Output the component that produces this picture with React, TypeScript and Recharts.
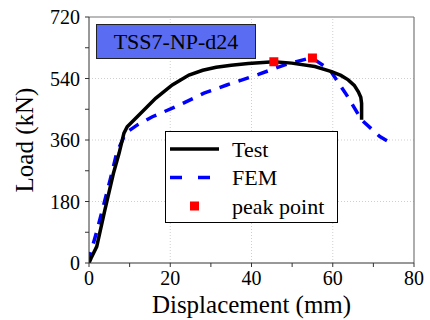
import {
  ComposedChart,
  Line,
  Scatter,
  XAxis,
  YAxis,
  ReferenceLine,
  Label,
} from "recharts";

const FONT =
  "Liberation Serif, Tinos, Times New Roman, Nimbus Roman, FreeSerif, Noto Serif, DejaVu Serif, serif";

// Test curve (displacement mm, load kN)
const TEST_X = [0, 0.5, 1.9, 3.9, 6.0, 7.4, 8.6, 9.4, 12.3, 16.4, 20.5, 24.6, 28, 31.3, 35, 39.2, 45.5, 49.9, 55.6, 59.7, 62, 63.8, 65.3, 66.3, 66.9, 67.1, 67.1];
const TEST_Y = [0, 14, 48, 155, 262, 321, 380, 399, 433, 482, 521, 550, 564, 573, 579, 584, 589, 585, 575, 560, 549, 536, 520, 501, 485, 467, 419];

// FEM curve
const FEM_X = [0, 0.25, 1.9, 3.5, 5.2, 6.8, 9.0, 12, 15.6, 22.2, 28.3, 31.6, 33.9, 41.7, 48.2, 54.8, 59.3, 63.4, 67.1, 71.6, 73.5];
const FEM_Y = [0, 23, 92, 165, 243, 321, 380, 405, 428, 462, 497, 511, 521, 552, 580, 601, 565, 492, 419, 370, 357];

// peak points
const PEAK_X = [45.5, 55.0];
const PEAK_Y = [589, 600];

const X_TICKS = [0, 10, 20, 30, 40, 50, 60, 70, 80];
const Y_TICKS = [0, 90, 180, 270, 360, 450, 540, 630, 720];
const X_GRID = [20, 40, 60];
const Y_GRID = [180, 360, 540];

const toPoints = (xs: number[], ys: number[]) => xs.map((x, i) => ({ x, y: ys[i] }));

const testData = toPoints(TEST_X, TEST_Y);
const femData = toPoints(FEM_X, FEM_Y);
const peakData = toPoints(PEAK_X, PEAK_Y);

function XTick(props: any) {
  const { x, y, payload } = props;
  if (payload.value % 20 !== 0) return null;
  return (
    <text x={x} y={y} dy="0.74em" textAnchor="middle" fontFamily={FONT} fontSize={20} fill="#000">
      {payload.value}
    </text>
  );
}

function YTick(props: any) {
  const { x, y, payload } = props;
  if (payload.value % 180 !== 0) return null;
  return (
    <text x={x} y={y} dy="0.36em" textAnchor="end" fontFamily={FONT} fontSize={20} fill="#000">
      {payload.value}
    </text>
  );
}

function Square(props: any) {
  const { cx, cy } = props;
  return <rect x={cx - 4.5} y={cy - 4.5} width={9} height={9} fill="#ff0000" />;
}

const LEGEND_ROWS = [
  { name: "Test", kind: "solid" },
  { name: "FEM", kind: "dash" },
  { name: "peak point", kind: "square" },
];

function LegendBox() {
  return (
    <div
      style={{
        position: "absolute",
        left: 165,
        top: 131,
        width: 171,
        height: 90,
        border: "1px solid #000",
        background: "#fff",
      }}
    >
      <svg width={171} height={90} style={{ display: "block" }}>
        {LEGEND_ROWS.map((r, i) => {
          const cy = 17 + i * 28.5;
          return (
            <g key={r.name}>
              {r.kind === "solid" && <line x1={4} x2={53} y1={cy} y2={cy} stroke="#000" strokeWidth={3.5} />}
              {r.kind === "dash" && (
                <line x1={4} x2={53} y1={cy} y2={cy} stroke="#0000ff" strokeWidth={3.5} strokeDasharray="12 16" />
              )}
              {r.kind === "square" && <rect x={24} y={cy - 4.5} width={9} height={9} fill="#ff0000" />}
              <text x={66} y={cy} dy="0.36em" fontFamily={FONT} fontSize={22} fill="#000">
                {r.name}
              </text>
            </g>
          );
        })}
      </svg>
    </div>
  );
}

export default function App() {
  return (
    <div style={{ position: "absolute", left: 0, top: 0, width: 430, height: 320, background: "#fff", fontFamily: FONT }}>
      <ComposedChart width={430} height={320} margin={{ top: 17, right: 16, bottom: 0, left: 0 }}>
        {X_GRID.map((v) => (
          <ReferenceLine key={"gx" + v} x={v} stroke="#cfcfcf" strokeDasharray="1 2" />
        ))}
        {Y_GRID.map((v) => (
          <ReferenceLine key={"gy" + v} y={v} stroke="#cfcfcf" strokeDasharray="1 2" />
        ))}
        <ReferenceLine x={80} stroke="#777" strokeWidth={1.2} />
        <ReferenceLine y={720} stroke="#777" strokeWidth={1.2} />
        <XAxis
          type="number"
          dataKey="x"
          domain={[0, 80]}
          ticks={X_TICKS}
          interval={0}
          height={57}
          tickSize={4}
          tickMargin={3}
          tick={<XTick />}
          stroke="#333"
          allowDataOverflow
        >
          <Label
            content={({ viewBox }: any) => (
              <text
                x={viewBox.x + viewBox.width / 2}
                y={viewBox.y + viewBox.height - 7}
                textAnchor="middle"
                fontFamily={FONT}
                fontSize={25}
                fill="#000"
              >
                Displacement (mm)
              </text>
            )}
          />
        </XAxis>
        <YAxis
          type="number"
          dataKey="y"
          domain={[0, 720]}
          ticks={Y_TICKS}
          interval={0}
          width={89}
          tickSize={4}
          tickMargin={5}
          tick={<YTick />}
          stroke="#333"
          allowDataOverflow
        >
          <Label
            content={({ viewBox }: any) => {
              const lx = viewBox.x + 33;
              const ly = viewBox.y + viewBox.height / 2;
              return (
                <text
                  x={lx}
                  y={ly}
                  transform={`rotate(-90 ${lx} ${ly})`}
                  textAnchor="middle"
                  fontFamily={FONT}
                  fontSize={25}
                  fill="#000"
                >
                  Load (kN)
                </text>
              );
            }}
          />
        </YAxis>
        <Line
          data={femData}
          dataKey="y"
          type="linear"
          stroke="#0000ff"
          strokeWidth={3.5}
          strokeDasharray="11 9"
          dot={false}
          isAnimationActive={false}
        />
        <Line
          data={testData}
          dataKey="y"
          type="linear"
          stroke="#000"
          strokeWidth={3.5}
          dot={false}
          isAnimationActive={false}
        />
        <Scatter data={peakData} dataKey="y" shape={<Square />} isAnimationActive={false} />
      </ComposedChart>
      <div
        style={{
          position: "absolute",
          left: 96,
          top: 24,
          width: 158,
          height: 33,
          background: "#5a6cf2",
          border: "1px solid #222",
          fontFamily: FONT,
          fontSize: 22,
          lineHeight: "33px",
          textAlign: "center",
          color: "#000",
        }}
      >
        TSS7-NP-d24
      </div>
      <LegendBox />
    </div>
  );
}
